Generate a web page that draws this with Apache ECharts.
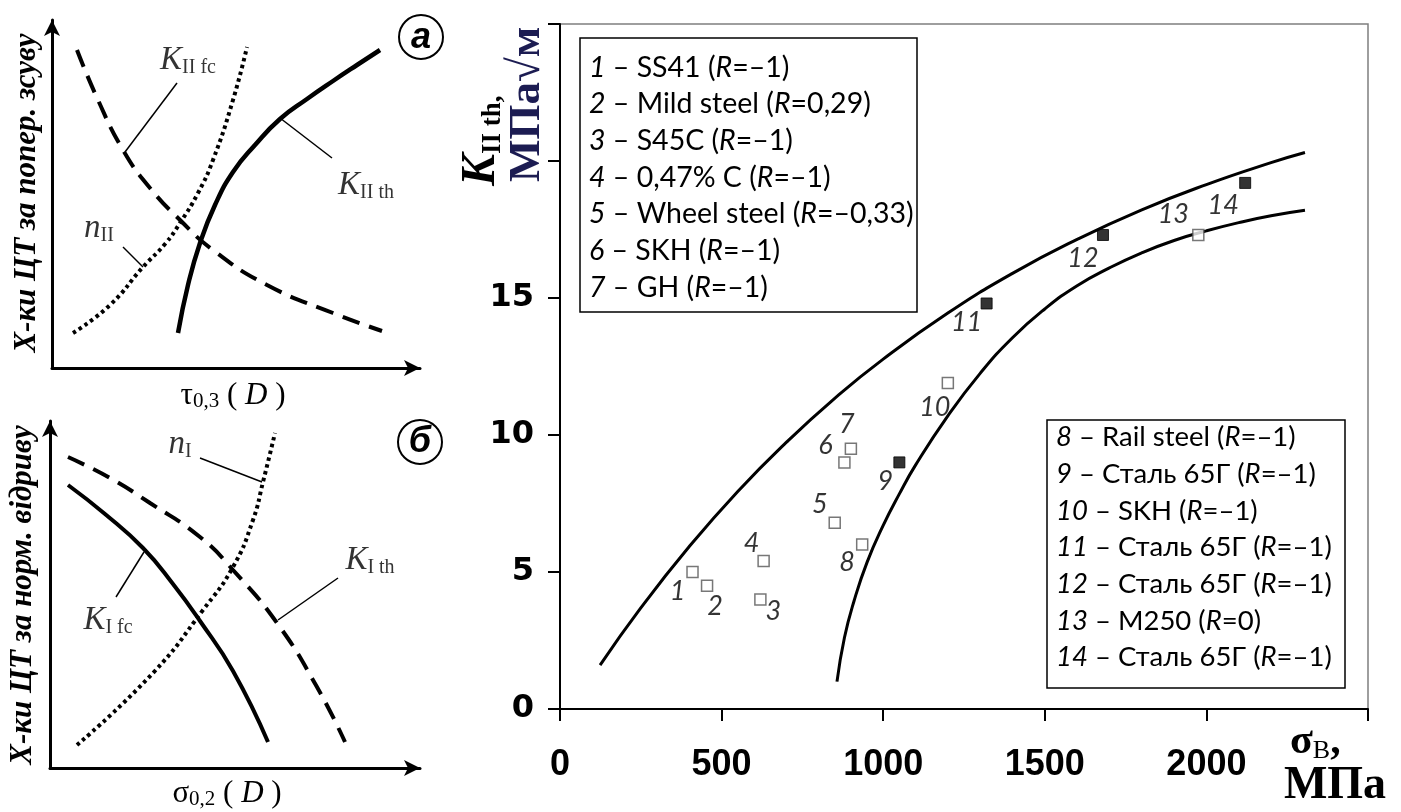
<!DOCTYPE html>
<html><head><meta charset="utf-8">
<script src="https://cdn.jsdelivr.net/npm/echarts@6/dist/echarts.min.js"></script>
<style>html,body{margin:0;padding:0;background:#fff}#c{width:1401px;height:812px}</style>
</head><body><div id="c"></div>
<script>
// ---------- Main chart data ----------
const xTickLabels = ['0', '500', '1000', '1500', '2000'];
const yTickLabels = ['0', '5', '10', '15'];
const pointIds = ['1','2','3','4','5','6','7','8','9','10','11','12','13','14'];
const sigmaB = [410, 455, 620, 630, 850, 880, 900, 935, 1050, 1200, 1320, 1680, 1975, 2120];
const kIIth  = [5.0, 4.5, 4.0, 5.4, 6.8, 9.0, 9.5, 6.0, 9.0, 11.9, 14.8, 17.3, 17.3, 19.2];
const pointFilled = [0,0,0,0,0,0,0,0,1,0,1,1,0,1];
const upperCurveX = [124, 250, 400, 550, 700, 850, 1000, 1200, 1400, 1600, 1800, 2000, 2200, 2305];
const upperCurveY = [1.6, 3.69, 5.93, 7.94, 9.73, 11.34, 12.77, 14.45, 15.9, 17.14, 18.22, 19.14, 19.94, 20.31];
const lowerCurveX = [857, 880, 910, 950, 1000, 1050, 1100, 1200, 1300, 1400, 1500, 1600, 1700, 1800, 1900, 2000, 2100, 2200, 2305];
const lowerCurveY = [1.0, 2.6, 3.95, 5.35, 6.7, 7.85, 8.9, 10.7, 12.25, 13.55, 14.6, 15.45, 16.1, 16.65, 17.1, 17.45, 17.75, 18.0, 18.2];

const legendLeftNums  = ['1','2','3','4','5','6','7'];
const legendLeftNames = ['SS41','Mild steel','S45C','0,47% C','Wheel steel','SKH','GH'];
const legendLeftR     = ['–1','0,29','–1','–1','–0,33','–1','–1'];
const legendRightNums  = ['8','9','10','11','12','13','14'];
const legendRightNames = ['Rail steel','Сталь 65Г','SKH','Сталь 65Г','Сталь 65Г','M250','Сталь 65Г'];
const legendRightR     = ['–1','–1','–1','–1','–1','0','–1'];

// ---------- Panel а (schematic, arbitrary units) ----------
const aFcX = [25, 46, 71, 98, 128, 161, 215, 281, 330];          // K_II fc (dashed)
const aFcY = [318, 268, 218, 180, 148, 118, 83, 55, 37];
const aNX  = [21, 58, 91, 113, 128, 146, 161, 181, 195];         // n_II (dotted)
const aNY  = [35, 63, 101, 124, 145, 175, 208, 268, 321];
const aThX = [126, 136, 148, 163, 181, 203, 228, 255, 281, 305, 328]; // K_II th (solid)
const aThY = [35, 83, 125, 163, 196, 223, 249, 269, 287, 303, 318];
const aLeaders = [[[125,285],[73,216]], [[71,121],[91,101]], [[228,250],[280,210]]];
const aLabelPos = [[136,308],[47,140],[314,183]];
const aLabelTexts = ['{k|K}{s|II fc}', '{k|n}{s|II}', '{k|K}{s|II th}'];

// ---------- Panel б ----------
const bThX = [18, 60, 100, 150, 183, 227, 267, 295];             // K_I th (dashed)
const bThY = [311, 290, 265, 231, 198, 145, 81, 26];
const bFcX = [18, 55, 93, 123, 150, 183, 218];                   // K_I fc (solid)
const bFcY = [283, 254, 220, 184, 147, 97, 26];
const bNX  = [27, 103, 153, 183, 203, 213, 225];                 // n_I (dotted)
const bNY  = [23, 95, 158, 201, 248, 286, 335];
const bLeaders = [[[150,310],[212,286]], [[288,190],[228,148]], [[66,171],[94,216]]];
const bLabelPos = [[130,324],[320,208],[58,148]];
const bLabelTexts = ['{k|n}{s|I}', '{k|K}{s|I th}', '{k|K}{s|I fc}'];

// ---------- helpers ----------
const zip = (xs, ys) => xs.map((x, i) => [x, ys[i]]);
const SERIF = '"Liberation Serif", "DejaVu Serif", serif';
const SANS = 'Lato, "Open Sans", sans-serif';

const mainLabelOffsets = [[-15,19],[8,21],[13,12],[-12,-18],[-15,-18],[-19,-17],[-4,-24],[-15,18],[-14,19],[-13,24],[-20,19],[-20,23],[-25,-21],[-22,22]];

function schematicAxes(gi, xmax, ymax) {
  const axisLine = {show: true, symbol: ['none', 'arrow'], symbolSize: [12, 16], lineStyle: {color: '#000', width: 3}};
  return {
    x: {type: 'value', gridIndex: gi, min: 0, max: xmax, axisLine, axisTick: {show: false}, axisLabel: {show: false}, splitLine: {show: false}},
    y: {type: 'value', gridIndex: gi, min: 0, max: ymax, axisLine, axisTick: {show: false}, axisLabel: {show: false}, splitLine: {show: false}}
  };
}
const axA = schematicAxes(1, 368, 348);
const axB = schematicAxes(2, 370, 347);

const panelLabelRich = {
  k: {fontFamily: SERIF, fontSize: 33, fontStyle: 'italic', color: '#000', lineHeight: 36, verticalAlign: 'middle'},
  s: {fontFamily: SERIF, fontSize: 20, color: '#000', lineHeight: 20, verticalAlign: 'bottom'}
};

function curve(xi, data, width, dash) {
  return {type: 'line', xAxisIndex: xi, yAxisIndex: xi, data, smooth: 0.5, symbol: 'none', silent: true,
    lineStyle: {color: '#000', width, type: dash || 'solid'}};
}
function leaders(xi, arr) {
  return arr.map(seg => ({type: 'line', xAxisIndex: xi, yAxisIndex: xi, data: seg, symbol: 'none', silent: true,
    lineStyle: {color: '#000', width: 1.5}}));
}
function panelLabels(xi, pos, texts) {
  return {type: 'scatter', xAxisIndex: xi, yAxisIndex: xi, symbolSize: 0, silent: true, data: pos,
    label: {show: true, position: 'inside', color: '#000', formatter: p => texts[p.dataIndex], rich: panelLabelRich}};
}

const scatterData = sigmaB.map((x, i) => ({
  value: [x, kIIth[i]],
  itemStyle: pointFilled[i] ? {color: '#000', borderColor: '#000', borderWidth: 1} : {color: '#fff', borderColor: '#555', borderWidth: 1.5},
  label: {offset: mainLabelOffsets[i]}
}));

function legendText(nums, names, rs) {
  return nums.map((n, i) => `{i|${n}}{r| – ${names[i]} (}{i|R}{r|=${rs[i]})}`).join('\n');
}
function legendRich(size) {
  return {
    r: {fontFamily: SANS, fontSize: size, fontStyle: 'normal', fontWeight: 'normal', fill: '#000', lineHeight: 36.7},
    i: {fontFamily: SANS, fontSize: size, fontStyle: 'italic', fontWeight: 'normal', fill: '#000', lineHeight: 36.7}
  };
}
const axisTitleRich = {
  g: {fontFamily: SERIF, fontSize: 31, fill: '#000', lineHeight: 32, verticalAlign: 'middle'},
  i: {fontFamily: SERIF, fontSize: 31, fontStyle: 'italic', fill: '#000', lineHeight: 32, verticalAlign: 'middle'},
  s: {fontFamily: SERIF, fontSize: 21, fill: '#000', lineHeight: 20, verticalAlign: 'bottom'}
};

const chart = echarts.init(document.getElementById('c'), null, {renderer: 'canvas'});
chart.setOption({
  backgroundColor: '#fff',
  animation: false,
  grid: [
    {left: 560, top: 24, width: 808, height: 685, show: true, borderColor: '#7f7f7f', borderWidth: 1.5, backgroundColor: 'transparent'},
    {left: 52, top: 20, width: 368, height: 348},
    {left: 50, top: 421, width: 370, height: 347}
  ],
  xAxis: [
    {type: 'value', gridIndex: 0, min: 0, max: 2500, interval: 500,
     axisLine: {show: true, onZero: false, lineStyle: {color: '#000', width: 2}},
     axisTick: {show: true, inside: false, length: 12, lineStyle: {color: '#000', width: 2}},
     axisLabel: {margin: 38, color: '#000', fontFamily: '"Liberation Sans", Arial, sans-serif', fontWeight: 'bold', fontSize: 36,
       formatter: v => { const i = xTickLabels.indexOf(String(v)); return i >= 0 ? xTickLabels[i] : ''; }},
     splitLine: {show: false}},
    axA.x, axB.x
  ],
  yAxis: [
    {type: 'value', gridIndex: 0, min: 0, max: 25, interval: 5,
     axisLine: {show: true, onZero: false, lineStyle: {color: '#000', width: 2}},
     axisTick: {show: true, inside: false, length: 12, lineStyle: {color: '#000', width: 2}},
     axisLabel: {margin: 26, color: '#000', fontFamily: '"DejaVu Sans", sans-serif', fontWeight: 'bold', fontSize: 32,
       formatter: v => { const i = yTickLabels.indexOf(String(v)); return i >= 0 ? yTickLabels[i] : ''; }},
     splitLine: {show: false}},
    axA.y, axB.y
  ],
  series: [
    curve(0, zip(upperCurveX, upperCurveY), 3),
    curve(0, zip(lowerCurveX, lowerCurveY), 3),
    {type: 'scatter', xAxisIndex: 0, yAxisIndex: 0, symbol: 'rect', symbolSize: 11, data: scatterData, z: 5,
     label: {show: true, position: 'inside', color: '#000', textBorderWidth: 0, fontFamily: SANS, fontStyle: 'italic', fontSize: 27,
       formatter: p => pointIds[p.dataIndex]}},
    // panel а
    curve(1, zip(aFcX, aFcY), 4, [18, 10]),
    curve(1, zip(aNX, aNY), 4, [3.5, 3.5]),
    curve(1, zip(aThX, aThY), 4.5),
    ...leaders(1, aLeaders),
    panelLabels(1, aLabelPos, aLabelTexts),
    // panel б
    curve(2, zip(bThX, bThY), 4, [18, 10]),
    curve(2, zip(bFcX, bFcY), 4),
    curve(2, zip(bNX, bNY), 4, [3.5, 3.5]),
    ...leaders(2, bLeaders),
    panelLabels(2, bLabelPos, bLabelTexts)
  ],
  graphic: [
    // legend boxes
    {type: 'rect', shape: {x: 580, y: 38, width: 337, height: 274}, style: {fill: '#fff', stroke: '#000', lineWidth: 1.5}, z: 10},
    {type: 'text', x: 589, y: 49, z: 11, style: {text: legendText(legendLeftNums, legendLeftNames, legendLeftR), rich: legendRich(28.5),
      font: '28px ' + SANS, fill: '#000', lineHeight: 36.7, align: 'left', verticalAlign: 'top'}},
    {type: 'rect', shape: {x: 1047, y: 420, width: 298, height: 268}, style: {fill: '#fff', stroke: '#000', lineWidth: 1.5}, z: 10},
    {type: 'text', x: 1056, y: 419, z: 11, style: {text: legendText(legendRightNums, legendRightNames, legendRightR), rich: legendRich(27.5),
      font: '27px ' + SANS, fill: '#000', lineHeight: 36.7, align: 'left', verticalAlign: 'top'}},
    // main y title
    {type: 'text', x: 482, y: 186, rotation: Math.PI / 2, z: 11, style: {text: '{k|K}{s|II th,}', align: 'left', verticalAlign: 'middle',
      rich: {k: {fontFamily: SERIF, fontSize: 48, fontStyle: 'italic', fontWeight: 'bold', fill: '#000', lineHeight: 50, verticalAlign: 'middle'},
             s: {fontFamily: SERIF, fontSize: 27, fontStyle: 'normal', fontWeight: 'bold', fill: '#000', lineHeight: 26, verticalAlign: 'bottom'}}}},
    {type: 'text', x: 527, y: 182, rotation: Math.PI / 2, z: 11, style: {text: 'МПа√м', align: 'left', verticalAlign: 'middle',
      font: 'bold 45px ' + SERIF, fill: '#1c1c52'}},
    // main x title
    {type: 'text', x: 1290, y: 742, z: 11, style: {text: '{g|σ}{s|B}{g|,}', align: 'left', verticalAlign: 'middle',
      rich: {g: {fontFamily: SERIF, fontSize: 42, fontWeight: 'bold', fill: '#000', lineHeight: 44, verticalAlign: 'middle'},
             s: {fontFamily: SERIF, fontSize: 26, fontWeight: 'normal', fill: '#000', lineHeight: 26, verticalAlign: 'bottom'}}}},
    {type: 'text', x: 1335, y: 786, z: 11, style: {text: 'МПа', align: 'center', verticalAlign: 'middle', font: 'bold 46px ' + SERIF, fill: '#000'}},
    // panel circles
    {type: 'circle', shape: {cx: 421, cy: 37, r: 22}, style: {fill: '#fff', stroke: '#000', lineWidth: 2}, z: 10},
    {type: 'text', x: 421, y: 38, z: 11, style: {text: 'а', align: 'center', verticalAlign: 'middle', font: 'italic bold 36px "Liberation Sans", Arial, sans-serif', fill: '#000'}},
    {type: 'circle', shape: {cx: 420, cy: 442, r: 22}, style: {fill: '#fff', stroke: '#000', lineWidth: 2}, z: 10},
    {type: 'text', x: 420, y: 442, z: 11, style: {text: 'б', align: 'center', verticalAlign: 'middle', font: 'italic bold 36px "Liberation Sans", Arial, sans-serif', fill: '#000'}},
    // panel axis titles
    {type: 'text', x: 27, y: 193, rotation: Math.PI / 2, z: 11, style: {text: 'Х-ки ЦТ за попер. зсуву', align: 'center', verticalAlign: 'middle', font: 'italic bold 31px ' + SERIF, fill: '#000'}},
    {type: 'text', x: 23, y: 595, rotation: Math.PI / 2, z: 11, style: {text: 'Х-ки ЦТ за норм. відриву', align: 'center', verticalAlign: 'middle', font: 'italic bold 31px ' + SERIF, fill: '#000'}},
    {type: 'text', x: 233, y: 396, z: 11, style: {text: '{g|τ}{s|0,3}{g| ( }{i|D}{g| )}', align: 'center', verticalAlign: 'middle', rich: axisTitleRich}},
    {type: 'text', x: 227, y: 794, z: 11, style: {text: '{g|σ}{s|0,2}{g| ( }{i|D}{g| )}', align: 'center', verticalAlign: 'middle', rich: axisTitleRich}}
  ]
});
</script></body></html>
